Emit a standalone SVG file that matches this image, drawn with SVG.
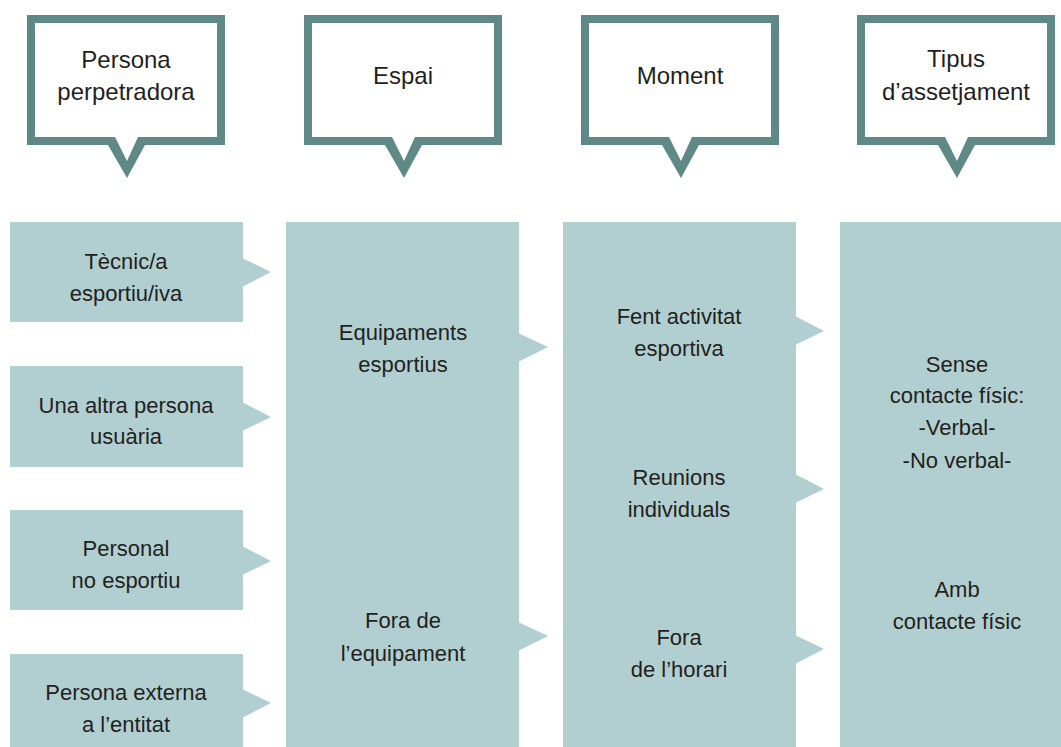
<svg xmlns="http://www.w3.org/2000/svg" xmlns:xlink="http://www.w3.org/1999/xlink" width="1061" height="747" viewBox="0 0 1061 747">
<defs>
<style>
.box{fill:#b1cfd1}
.arrow{fill:#b1cfd1}
.frame{fill:#5f8987;fill-rule:evenodd}
.inner{fill:#ffffff}
text{font-family:"Liberation Sans",Arial,sans-serif;fill:#231f20;text-anchor:middle}
.t{font-size:24px}
.b{font-size:22px}
</style>
<path id="callout" d="M0,15 H198 V145 H118 L100,178 L81,145 H0 Z M8,23 V137 H88 L100,161 L111,137 H190 V23 Z"/>
<path id="calloutFill" d="M8,23 V137 H88 L100,161 L111,137 H190 V23 Z"/>
</defs>
<rect width="1061" height="747" fill="#ffffff"/>

<g id="title-persona">
<use xlink:href="#calloutFill" x="27" class="inner"/>
<use xlink:href="#callout" x="27" class="frame"/>
<text class="t" x="126" y="68">Persona</text>
<text class="t" x="126" y="100">perpetradora</text>
</g>
<g id="title-espai">
<use xlink:href="#calloutFill" x="304" class="inner"/>
<use xlink:href="#callout" x="304" class="frame"/>
<text class="t" x="403" y="84">Espai</text>
</g>
<g id="title-moment">
<use xlink:href="#calloutFill" x="581" class="inner"/>
<use xlink:href="#callout" x="581" class="frame"/>
<text class="t" x="680" y="84">Moment</text>
</g>
<g id="title-tipus">
<use xlink:href="#calloutFill" x="857" class="inner"/>
<use xlink:href="#callout" x="857" class="frame"/>
<text class="t" x="956" y="67">Tipus</text>
<text class="t" x="956" y="100">d’assetjament</text>
</g>

<g id="connectors">
<polygon class="arrow" points="242,258 271,272 242,287"/>
<polygon class="arrow" points="242,402 271,417 242,431"/>
<polygon class="arrow" points="242,546 271,561 242,575"/>
<polygon class="arrow" points="242,689 271,703 242,718"/>
<polygon class="arrow" points="518,333 548,347 518,362"/>
<polygon class="arrow" points="518,622 548,636 518,651"/>
<polygon class="arrow" points="795,316 824,331 795,345"/>
<polygon class="arrow" points="795,474 824,489 795,503"/>
<polygon class="arrow" points="795,635 824,649 795,664"/>
</g>

<g id="node-tecnic">
<rect class="box" x="10" y="222" width="233" height="100"/>
<text class="b" x="126" y="269">Tècnic/a</text>
<text class="b" x="126" y="301">esportiu/iva</text>
</g>
<g id="node-usuaria">
<rect class="box" x="10" y="366" width="233" height="101"/>
<text class="b" x="126" y="413">Una altra persona</text>
<text class="b" x="126" y="444">usuària</text>
</g>
<g id="node-personal">
<rect class="box" x="10" y="510" width="233" height="100"/>
<text class="b" x="126" y="556">Personal</text>
<text class="b" x="126" y="588">no esportiu</text>
</g>
<g id="node-externa">
<rect class="box" x="10" y="654" width="233" height="93"/>
<text class="b" x="126" y="700">Persona externa</text>
<text class="b" x="126" y="732">a l’entitat</text>
</g>

<g id="node-espai">
<rect class="box" x="286" y="222" width="233" height="525"/>
<text class="b" x="403" y="340">Equipaments</text>
<text class="b" x="403" y="372">esportius</text>
<text class="b" x="403" y="628">Fora de</text>
<text class="b" x="403" y="661">l’equipament</text>
</g>

<g id="node-moment">
<rect class="box" x="563" y="222" width="233" height="525"/>
<text class="b" x="679" y="324">Fent activitat</text>
<text class="b" x="679" y="356">esportiva</text>
<text class="b" x="679" y="485">Reunions</text>
<text class="b" x="679" y="517">individuals</text>
<text class="b" x="679" y="645">Fora</text>
<text class="b" x="679" y="677">de l’horari</text>
</g>

<g id="node-tipus">
<rect class="box" x="840" y="222" width="221" height="525"/>
<text class="b" x="957" y="372">Sense</text>
<text class="b" x="957" y="403">contacte físic:</text>
<text class="b" x="957" y="435">-Verbal-</text>
<text class="b" x="957" y="468">-No verbal-</text>
<text class="b" x="957" y="597">Amb</text>
<text class="b" x="957" y="629">contacte físic</text>
</g>
</svg>
